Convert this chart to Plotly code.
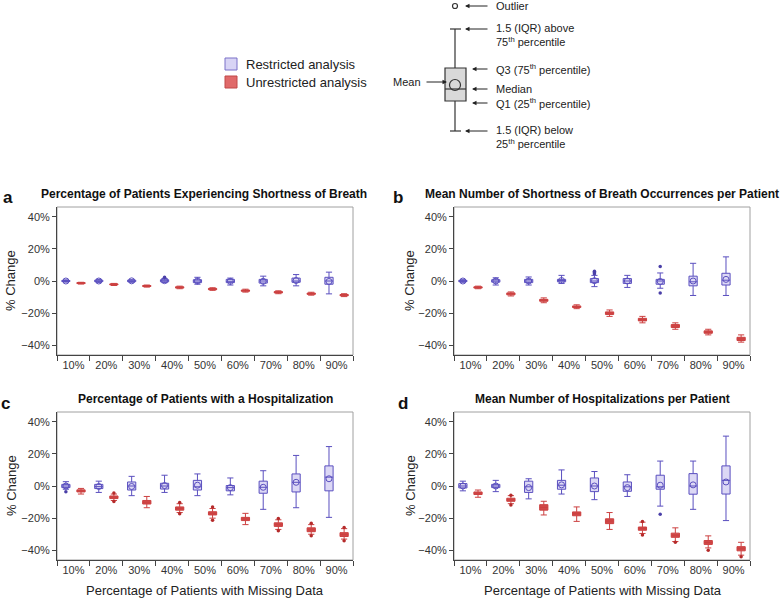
import plotly.graph_objects as go
from plotly.subplots import make_subplots

# %% data (percent change); each row = (lower whisker, Q1, median, Q3, upper whisker, mean)
categories = ["10%", "20%", "30%", "40%", "50%", "60%", "70%", "80%", "90%"]
y_ticks = [-40, -20, 0, 20, 40]
y_ticktext = ["\u221240%", "\u221220%", "0%", "20%", "40%"]

a_restricted = [(-0.7, -0.3, 0, 0.3, 0.7, 0), (-1.0, -0.4, 0, 0.5, 1.0, 0), (-0.8, -0.4, 0, 0.5, 0.8, 0.1),
                (-1.0, -0.5, 0.2, 0.8, 1.5, 0.2), (-2.0, -1.0, 0, 0.8, 2.3, 0), (-2.5, -1.0, -0.2, 1.0, 1.8, -0.2),
                (-3.0, -1.3, 0, 1.0, 3.0, -0.2), (-3.0, -0.8, 0, 1.8, 4.0, 0.3), (-8.0, -2.0, 0, 2.3, 5.5, -0.3)]
a_unrestricted = [(-1.9, -1.6, -1.3, -1.0, -0.8, -1.3), (-2.8, -2.4, -2.1, -1.8, -1.5, -2.1),
                  (-3.8, -3.4, -3.1, -2.8, -2.5, -3.1), (-4.8, -4.4, -4.0, -3.6, -3.2, -4.0),
                  (-5.8, -5.4, -5.0, -4.6, -4.2, -5.0), (-6.9, -6.4, -6.0, -5.6, -5.1, -6.0),
                  (-7.9, -7.4, -7.0, -6.6, -6.1, -7.0), (-8.8, -8.3, -7.9, -7.5, -7.0, -7.9),
                  (-9.7, -9.2, -8.8, -8.4, -7.9, -8.8)]
a_out_restricted = [(4, 2.4)]
a_out_unrestricted = []

b_restricted = [(-0.8, -0.4, 0, 0.4, 0.8, 0), (-2.5, -0.7, 0, 0.8, 2.0, 0), (-2.5, -1.0, 0, 1.0, 2.5, 0),
                (-1.5, -0.5, 0.3, 1.0, 3.5, 0.3), (-3.5, -1.0, 0, 1.5, 3.5, 0.2), (-4.0, -1.5, 0, 1.5, 3.5, 0),
                (-4.5, -2.0, 0, 1.0, 5.0, -0.3), (-9.0, -3.0, -0.5, 3.0, 11.0, 0), (-9.0, -2.5, 0.5, 4.8, 15.0, 1.0)]
b_unrestricted = [(-4.8, -4.4, -4.0, -3.6, -3.2, -4.0), (-9.3, -8.6, -8.0, -7.4, -6.8, -8.0),
                  (-13.5, -12.6, -12.0, -11.4, -10.5, -12.0), (-17.2, -16.5, -16.0, -15.5, -14.8, -16.0),
                  (-22.0, -20.8, -20.0, -19.2, -18.0, -20.0), (-26.0, -24.8, -24.0, -23.2, -22.0, -24.0),
                  (-30.0, -28.9, -28.0, -27.1, -26.0, -28.0), (-33.5, -32.5, -31.8, -31.0, -30.0, -31.8),
                  (-38.0, -37.0, -36.0, -35.0, -33.5, -36.0)]
b_out_restricted = [(5, 4.5), (5, 5.3), (5, 6.1), (7, 9.0), (7, -7.5)]
b_out_unrestricted = []

c_restricted = [(-2.0, -1.0, 0, 1.0, 2.7, 0), (-4.0, -1.6, -0.4, 1.0, 3.0, -0.3), (-6.0, -2.5, 0, 2.5, 6.0, -0.3),
                (-4.0, -1.9, 0, 1.7, 6.7, 0.3), (-6.0, -2.5, -0.5, 3.5, 7.5, 0.5), (-5.5, -3.0, -1.0, 0.3, 5.0, -1.0),
                (-14.5, -4.5, -0.8, 3.0, 9.5, -0.8), (-13.5, -3.7, 2.3, 7.5, 19.0, 2.3),
                (-19.5, -3.0, 5.5, 12.5, 24.5, 4.5)]
c_unrestricted = [(-5.0, -3.7, -3.1, -2.4, -1.5, -3.1), (-9.0, -7.8, -7.0, -6.2, -5.0, -7.0),
                  (-13.5, -11.2, -10.1, -9.0, -6.5, -10.1), (-16.5, -15.0, -14.0, -13.0, -11.0, -14.0),
                  (-20.0, -18.0, -17.0, -16.0, -14.0, -17.0), (-24.0, -21.5, -20.5, -19.5, -17.0, -20.5),
                  (-27.0, -25.1, -24.0, -22.9, -21.0, -24.0), (-30.0, -28.4, -27.2, -26.0, -24.0, -27.2),
                  (-33.0, -31.4, -30.2, -29.0, -26.5, -30.2)]
c_out_restricted = [(1, -3.6)]
c_out_unrestricted = [(2, -4.3), (2, -9.7), (4, -10.2), (4, -17.3), (5, -13.0), (5, -21.3),
                      (7, -20.2), (7, -27.8), (8, -23.2), (8, -31.0), (9, -25.8), (9, -34.0)]

d_restricted = [(-3.0, -1.2, 0, 1.5, 3.0, 0), (-3.5, -1.0, 0, 1.0, 3.5, 0), (-8.0, -4.0, -0.5, 3.0, 4.5, -1.0),
                (-5.0, -2.0, 0.5, 3.5, 10.0, 0.7), (-8.5, -3.5, 0, 5.0, 9.0, 0), (-6.5, -3.3, -0.5, 2.5, 7.0, -1.0),
                (-12.5, -2.0, -0.5, 6.7, 15.5, 0.5), (-14.5, -5.1, 0, 7.7, 15.5, 0.7),
                (-21.5, -5.0, 3.5, 12.5, 31.0, 2.5)]
d_unrestricted = [(-7.0, -5.3, -4.5, -3.7, -2.5, -4.5), (-11.0, -9.5, -8.6, -7.6, -6.0, -8.6),
                  (-18.0, -15.0, -13.3, -11.6, -9.5, -13.3), (-22.0, -18.5, -17.3, -16.1, -13.0, -17.3),
                  (-27.0, -23.4, -21.8, -20.4, -16.5, -21.8), (-29.5, -27.5, -26.5, -25.5, -22.5, -26.5),
                  (-34.5, -31.9, -30.6, -29.3, -26.0, -30.6), (-38.5, -36.3, -35.1, -33.9, -31.0, -35.1),
                  (-43.0, -40.3, -39.0, -37.7, -35.0, -39.0)]
d_out_restricted = [(7, -17.5)]
d_out_unrestricted = [(2, -5.8), (2, -11.8), (6, -22.0), (6, -30.5), (7, -35.0), (8, -40.0), (9, -44.0)]

panel_titles = ["Percentage of Patients Experiencing Shortness of Breath",
                "Mean Number of Shortness of Breath Occurrences per Patient",
                "Percentage of Patients with a Hospitalization",
                "Mean Number of Hospitalizations per Patient"]
panel_letters = ["a", "b", "c", "d"]

# %% styling
W, H = 784, 600
FONT = "Liberation Sans, Arial, sans-serif"
BLUE_LINE, BLUE_FILL, BLUE_DOT = "#5a4fbf", "#dcd8f5", "#4a3fa8"
RED_LINE, RED_FILL, RED_DOT = "#cc4040", "#d04848", "#b52a2a"
OFFSET, BOX_W = 0.23, 0.25


def px(x):
    return x / W


def py(y):
    return 1 - y / H


def label(x, y, text, size=11, xanchor="center", **kw):
    fig.add_annotation(x=px(x), y=py(y), xref="paper", yref="paper", text=text, showarrow=False,
                       xanchor=xanchor, yanchor="middle",
                       font=dict(family=FONT, size=size, color=kw.pop("color", "#222")), **kw)


fig = make_subplots(rows=2, cols=2)

panels = [
    (a_restricted, a_unrestricted, a_out_restricted, a_out_unrestricted),
    (b_restricted, b_unrestricted, b_out_restricted, b_out_unrestricted),
    (c_restricted, c_unrestricted, c_out_restricted, c_out_unrestricted),
    (d_restricted, d_unrestricted, d_out_restricted, d_out_unrestricted),
]

for i, (restr, unrestr, out_r, out_u) in enumerate(panels):
    row, col = i // 2 + 1, i % 2 + 1
    for data, outl, shift, line_c, fill_c, dot_c in [
        (restr, out_r, -OFFSET, BLUE_LINE, BLUE_FILL, BLUE_DOT),
        (unrestr, out_u, OFFSET, RED_LINE, RED_FILL, RED_DOT),
    ]:
        xs = [k + 1 + shift for k in range(len(data))]
        fig.add_trace(go.Box(
            x=xs,
            lowerfence=[r[0] for r in data], q1=[r[1] for r in data], median=[r[2] for r in data],
            q3=[r[3] for r in data], upperfence=[r[4] for r in data],
            width=BOX_W, whiskerwidth=0.75, fillcolor=fill_c,
            line=dict(color=line_c, width=1), boxpoints=False, showlegend=False, hoverinfo="skip"
        ), row=row, col=col)
        if fill_c == BLUE_FILL:
            fig.add_trace(go.Scatter(
                x=xs, y=[r[5] for r in data], mode="markers",
                marker=dict(symbol="circle-open", size=6, color=line_c, line=dict(width=1)),
                showlegend=False, hoverinfo="skip"
            ), row=row, col=col)
        if outl:
            fig.add_trace(go.Scatter(
                x=[o[0] + shift for o in outl], y=[o[1] for o in outl], mode="markers",
                marker=dict(size=3.5, color=dot_c), showlegend=False, hoverinfo="skip"
            ), row=row, col=col)

# %% axes
x_domains = [[px(57), px(353)], [px(454), px(750)]]
y_domains = [[py(355), py(207)], [py(560), py(412)]]
for i in range(4):
    row, col = i // 2 + 1, i % 2 + 1
    fig.update_xaxes(
        domain=x_domains[col - 1], range=[0.5, 9.5], automargin=False,
        tickvals=list(range(1, 10)), ticktext=categories, ticks="",
        minor=dict(tickvals=[k + 0.5 for k in range(10)], ticks="outside", ticklen=5,
                   tickcolor="#444", tickwidth=1),
        showline=True, linecolor="#444", linewidth=1, showgrid=False, zeroline=False,
        tickfont=dict(family=FONT, size=11, color="#333"), row=row, col=col
    )
    fig.update_yaxes(
        domain=y_domains[row - 1], range=[-46, 46], automargin=False,
        tickvals=y_ticks, ticktext=y_ticktext, ticks="outside", ticklen=4,
        tickcolor="#444", showline=True, linecolor="#444", linewidth=1,
        showgrid=False, zeroline=False,
        tickfont=dict(family=FONT, size=11, color="#333"), row=row, col=col
    )
    ax_id = "" if i == 0 else str(i + 1)
    fig.add_shape(type="rect", xref=f"x{ax_id} domain", yref=f"y{ax_id} domain",
                  x0=0, x1=1, y0=0, y1=1, line=dict(color="#a0a0a0", width=1), layer="below")

# panel titles, letters and axis titles
title_pos = [(204, 194), (602, 194), (205, 399), (602, 399)]
letter_pos = [(8, 197), (398, 197), (5, 403), (403, 403)]
for i in range(4):
    label(*title_pos[i], f"<b>{panel_titles[i]}</b>", size=12, color="#111")
    label(*letter_pos[i], f"<b>{panel_letters[i]}</b>", size=17, color="#111")
for xc, yc in [(11, 281), (410, 281), (11, 486), (410, 486)]:
    label(xc, yc, "% Change", size=13, textangle=-90)
for xc in [205, 603]:
    label(xc, 590, "Percentage of Patients with Missing Data", size=13)

# %% legend (drawn by hand)
for yc, fill_c, line_c, text in [(64, "#d8d4f5", "#7a70c8", "Restricted analysis"),
                                 (82, "#e06a6a", "#c04848", "Unrestricted analysis")]:
    fig.add_shape(type="rect", xref="paper", yref="paper", x0=px(225), x1=px(237),
                  y0=py(yc + 6), y1=py(yc - 6), fillcolor=fill_c, line=dict(color=line_c, width=1))
    label(244, yc, text, size=13, xanchor="left")

# %% box-plot key
K = "#333"
key_shapes = [
    dict(type="circle", x0=px(452.5), x1=px(457.5), y0=py(8.5), y1=py(3.5)),
    dict(type="line", x0=px(450), x1=px(461), y0=py(29), y1=py(29)),
    dict(type="line", x0=px(455), x1=px(455), y0=py(29), y1=py(68)),
    dict(type="rect", x0=px(445), x1=px(466), y0=py(101), y1=py(68), fillcolor="#d9d9d9"),
    dict(type="line", x0=px(445), x1=px(466), y0=py(89), y1=py(89)),
    dict(type="circle", x0=px(449.5), x1=px(460.5), y0=py(90.5), y1=py(79.5)),
    dict(type="line", x0=px(455), x1=px(455), y0=py(101), y1=py(131)),
    dict(type="line", x0=px(450), x1=px(461), y0=py(131), y1=py(131)),
]
for s in key_shapes:
    fig.add_shape(xref="paper", yref="paper", line=dict(color=K, width=1.2), **s)

arrows = [(465, 489, 6), (465, 489, 29), (472, 489, 69), (472, 489, 89), (472, 489, 103),
          (465, 489, 131), (447, 425, 82)]
for tip, tail, yy in arrows:
    fig.add_annotation(x=px(tip), y=py(yy), xref="paper", yref="paper", text="",
                       showarrow=True, ax=tail - tip, ay=0, arrowhead=2, arrowsize=0.9,
                       arrowwidth=1, arrowcolor="#222")

key_texts = [(6, "Outlier"), (35, "1.5 (IQR) above<br>75<sup>th</sup> percentile"),
             (69, "Q3 (75<sup>th</sup> percentile)"), (89, "Median"),
             (103, "Q1 (25<sup>th</sup> percentile)"),
             (137, "1.5 (IQR) below<br>25<sup>th</sup> percentile")]
for yy, txt in key_texts:
    label(494, yy, txt, size=11, xanchor="left", align="left")
label(423, 82, "Mean", size=11, xanchor="right")

fig.update_layout(
    width=W, height=H, margin=dict(l=0, r=0, t=0, b=0),
    paper_bgcolor="white", plot_bgcolor="white", showlegend=False,
    font=dict(family=FONT, color="#222")
)

# the figure fills the whole window, so drop the page's default body margin
fig.write_html("out.html", config={"displayModeBar": False},
               post_script="document.body.style.margin = '0';")
